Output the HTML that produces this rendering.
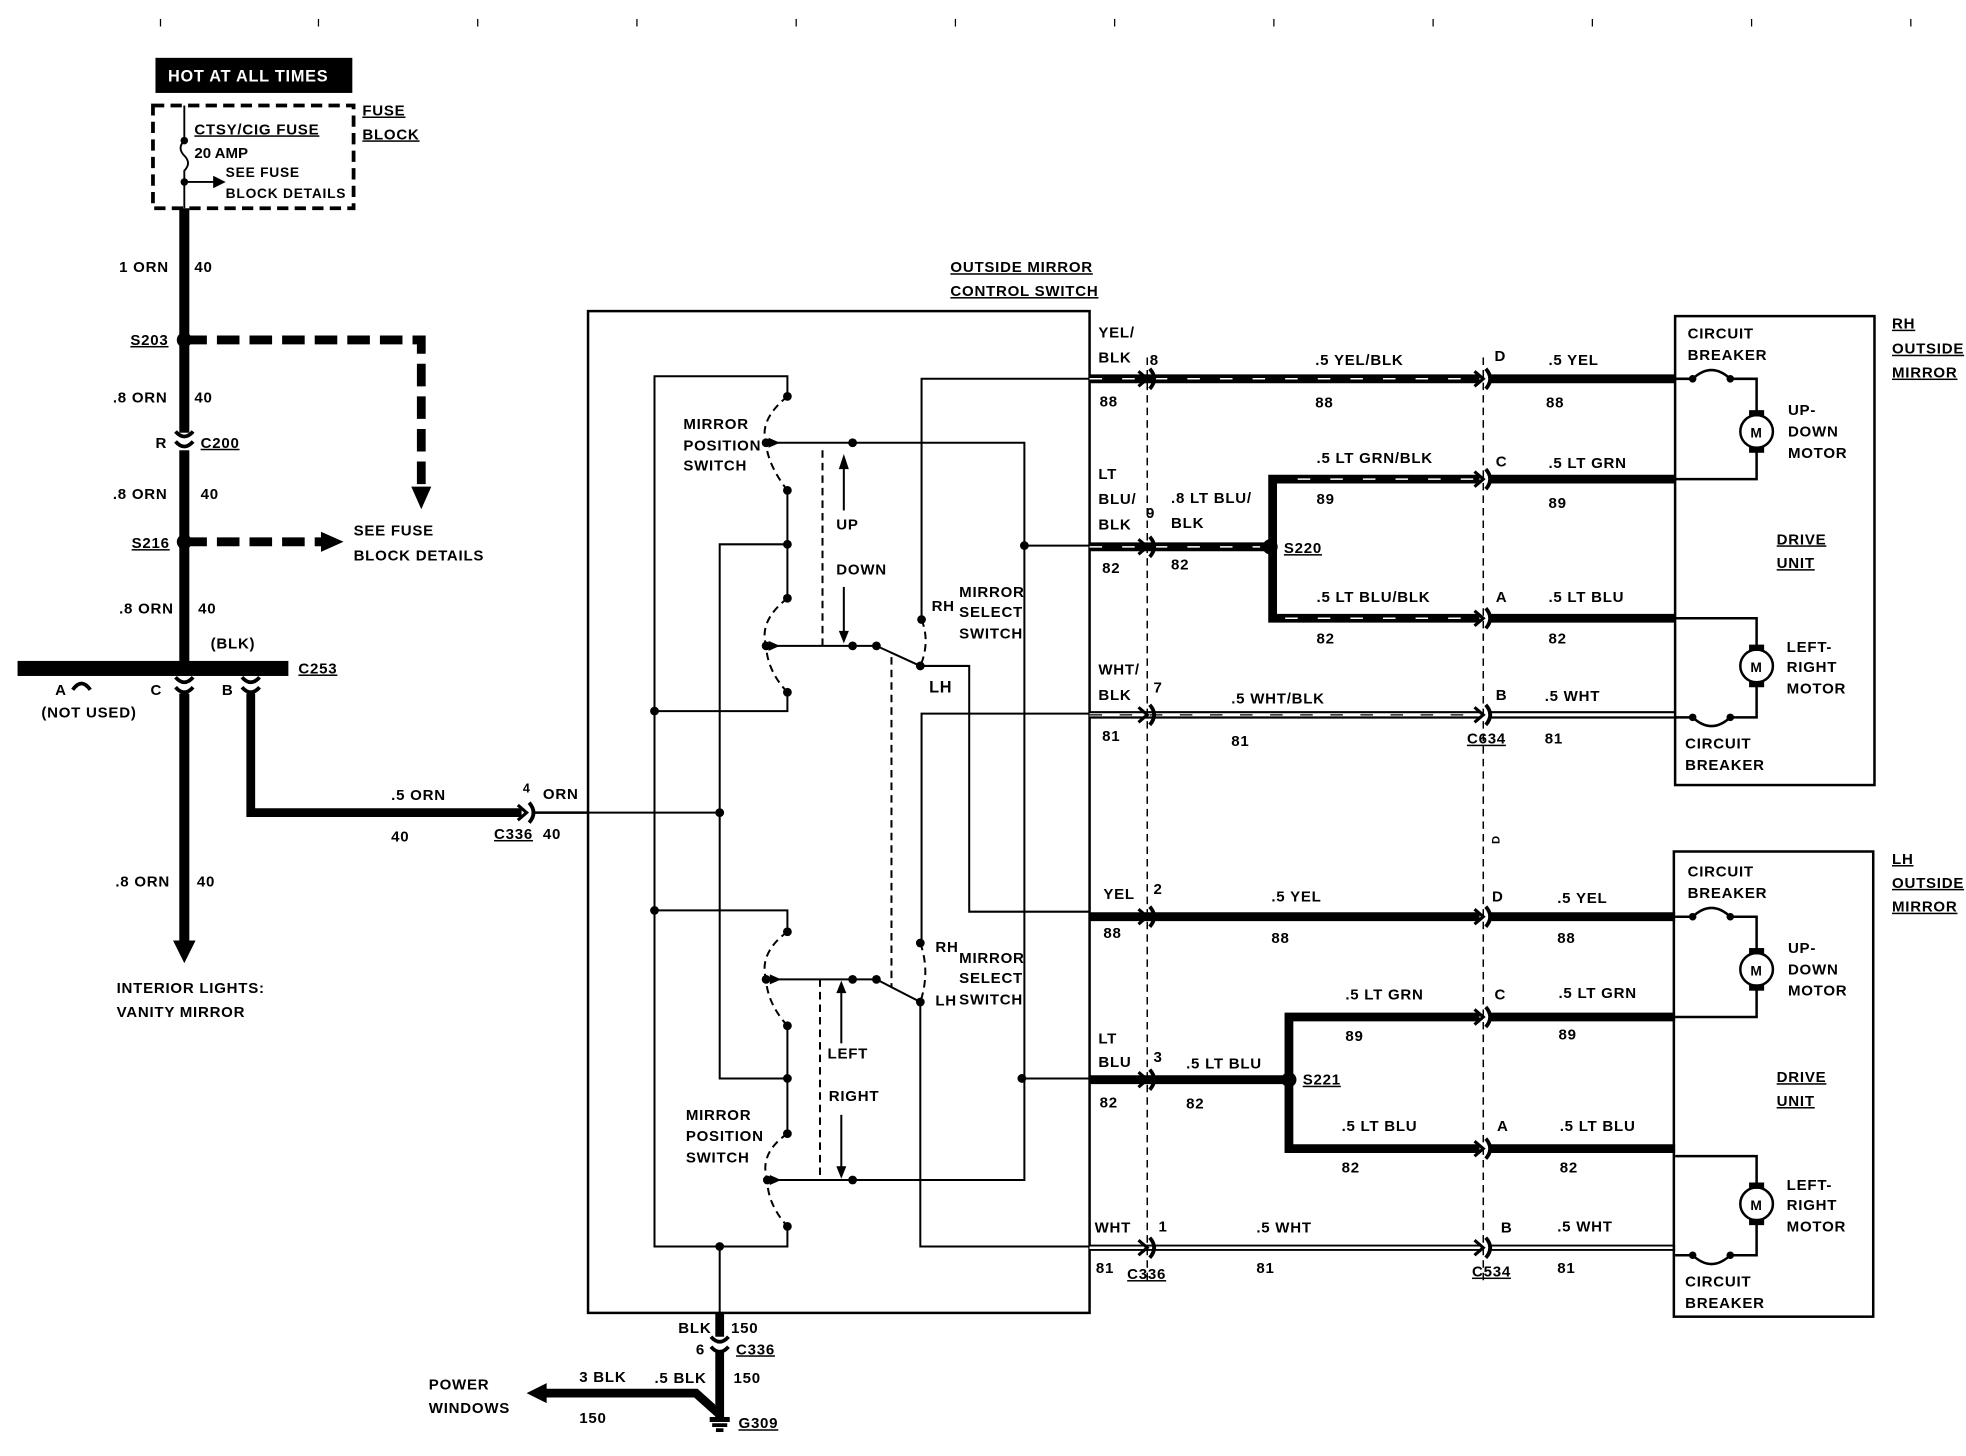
<!DOCTYPE html>
<html><head><meta charset="utf-8"><style>
html,body{margin:0;padding:0;background:#fff;}
svg{display:block;}
text{font-family:"Liberation Sans",sans-serif;font-weight:bold;font-size:12px;fill:#000;letter-spacing:0.6px;}
.u{text-decoration:underline;}
</style></head><body>
<svg width="1966" height="1456" viewBox="0 0 1568 1161" xmlns="http://www.w3.org/2000/svg">
<defs>
<g id="cn"><path d="M-7,-6 L0,0 L-7,6" fill="none" stroke="#000" stroke-width="2.5"/><path d="M2,-8 Q9,0 2,8" fill="none" stroke="#000" stroke-width="3"/></g>
<g id="cnv"><path d="M-7,-6 Q0,2 7,-6" fill="none" stroke="#000" stroke-width="3"/><path d="M-7,2 Q0,10 7,2" fill="none" stroke="#000" stroke-width="3"/></g>
</defs>
<g stroke="#000" stroke-width="1">
<line x1="128" y1="15" x2="128" y2="21"/><line x1="254" y1="15" x2="254" y2="21"/><line x1="381" y1="15" x2="381" y2="21"/><line x1="508" y1="15" x2="508" y2="21"/><line x1="635" y1="15" x2="635" y2="21"/><line x1="762" y1="15" x2="762" y2="21"/><line x1="889" y1="15" x2="889" y2="21"/><line x1="1016" y1="15" x2="1016" y2="21"/><line x1="1143" y1="15" x2="1143" y2="21"/><line x1="1270" y1="15" x2="1270" y2="21"/><line x1="1397" y1="15" x2="1397" y2="21"/><line x1="1524" y1="15" x2="1524" y2="21"/>
</g>
<rect x="124" y="46" width="157" height="28" fill="#000"/>
<text x="134" y="65" style="fill:#fff;font-size:13px">HOT AT ALL TIMES</text>
<rect x="122" y="84" width="160" height="82" fill="none" stroke="#000" stroke-width="3" stroke-dasharray="9,5"/>
<text x="155" y="107" class="u">CTSY/CIG FUSE</text>
<text x="155" y="126" style="letter-spacing:0">20 AMP</text>
<text x="180" y="141" style="font-size:11px">SEE FUSE</text>
<text x="180" y="158" style="font-size:11px">BLOCK DETAILS</text>
<text x="289" y="92" class="u">FUSE</text>
<text x="289" y="111" class="u">BLOCK</text>
<path d="M147,84 V112 Q141,118 147,124 Q153,130 147,136 V166" fill="none" stroke="#000" stroke-width="1.5"/>
<circle cx="147" cy="112" r="3"/><circle cx="147" cy="145" r="3"/>
<line x1="147" y1="145" x2="172" y2="145" stroke="#000" stroke-width="1.5"/><path d="M170,140 L180,145 L170,150Z"/>
<line x1="147" y1="166" x2="147" y2="755" stroke="#000" stroke-width="8"/>
<path d="M138,750 L147,768 L156,750Z"/>
<text x="95" y="217">1 ORN</text><text x="155" y="217">40</text>
<circle cx="147" cy="271" r="6"/><text x="104" y="275" class="u">S203</text>
<path d="M147,271 H336 V390" fill="none" stroke="#000" stroke-width="7" stroke-dasharray="18,8"/>
<path d="M328,388 L336,406 L344,388Z"/>
<text x="90" y="321">.8 ORN</text><text x="155" y="321">40</text>
<rect x="138" y="345" width="18" height="14" fill="#fff"/>
<use href="#cnv" x="147" y="350"/>
<text x="124" y="357">R</text><text x="160" y="357" class="u">C200</text>
<text x="90" y="398">.8 ORN</text><text x="160" y="398">40</text>
<circle cx="147" cy="432" r="6"/><text x="105" y="437" class="u">S216</text>
<line x1="147" y1="432" x2="258" y2="432" stroke="#000" stroke-width="7" stroke-dasharray="18,8"/>
<path d="M256,424 L274,432 L256,440Z"/>
<text x="282" y="427">SEE FUSE</text><text x="282" y="447">BLOCK DETAILS</text>
<text x="95" y="489">.8 ORN</text><text x="158" y="489">40</text>
<rect x="14" y="527" width="216" height="12" fill="#000"/>
<text x="168" y="517">(BLK)</text><text x="238" y="537" class="u">C253</text>
<path d="M58,550 Q65,540 72,550" fill="none" stroke="#000" stroke-width="3"/>
<text x="44" y="554">A</text><text x="120" y="554">C</text><text x="177" y="554">B</text>
<text x="33" y="572">(NOT USED)</text>
<rect x="138" y="539" width="18" height="14" fill="#fff"/><use href="#cnv" x="147" y="546"/>
<use href="#cnv" x="200" y="546"/>
<path d="M200,553 V648 H416" fill="none" stroke="#000" stroke-width="7"/>
<use href="#cn" x="420" y="648"/>
<line x1="425" y1="648" x2="469" y2="648" stroke="#000" stroke-width="2"/>
<text x="312" y="638">.5 ORN</text><text x="312" y="671">40</text>
<text x="417" y="632" style="font-size:10px">4</text><text x="433" y="637">ORN</text>
<text x="394" y="669" class="u">C336</text><text x="433" y="669">40</text>
<text x="92" y="707">.8 ORN</text><text x="157" y="707">40</text>
<text x="93" y="792">INTERIOR LIGHTS:</text><text x="93" y="811">VANITY MIRROR</text>
<rect x="469" y="248" width="400" height="799" fill="none" stroke="#000" stroke-width="2"/>
<text x="758" y="217" class="u">OUTSIDE MIRROR</text><text x="758" y="236" class="u">CONTROL SWITCH</text>
<g fill="none" stroke="#000" stroke-width="1.6">
<path d="M628,316 V300 H522 V994 H628 V978"/>
<path d="M522,567 H628 V552"/>
<path d="M522,726 H628 V743"/>
<path d="M628,391 V477"/><path d="M628,818 V904"/>
<path d="M574,994 V1047"/>
<path d="M628,434 H574 V860 H628"/>
<path d="M574,648 H469"/>
<path d="M611,353 H817 V941 H612"/>
<path d="M817,435 H869"/><path d="M817,860 H869"/>
<path d="M611,515 H699 L734,531 H773 V727 H869"/>
<path d="M735,494 V302 H869"/>
<path d="M869,569 H735 V752"/>
<path d="M612,781 H699 L734,799 V994 H869"/>
</g>
<g fill="none" stroke="#000" stroke-width="1.6" stroke-dasharray="6,4">
<path d="M628,316 Q605,335 611,353 Q612,370 628,391"/>
<path d="M628,477 Q605,495 611,515 Q612,535 628,552"/>
<path d="M628,743 Q605,760 611,781 Q612,800 628,818"/>
<path d="M628,904 Q605,920 612,941 Q612,960 628,978"/>
<path d="M735,494 Q742,512 734,531"/><path d="M734,752 Q742,775 734,799"/>
<line x1="656" y1="359" x2="656" y2="515"/><line x1="711" y1="524" x2="711" y2="787"/><line x1="654" y1="781" x2="654" y2="941"/>
</g>
<g>
<circle cx="628" cy="316" r="3.5"/><circle cx="611" cy="353" r="3.5"/><circle cx="628" cy="391" r="3.5"/><circle cx="628" cy="434" r="3.5"/><circle cx="628" cy="477" r="3.5"/><circle cx="611" cy="515" r="3.5"/><circle cx="628" cy="552" r="3.5"/>
<circle cx="522" cy="567" r="3.5"/><circle cx="574" cy="648" r="3.5"/><circle cx="522" cy="726" r="3.5"/><circle cx="574" cy="994" r="3.5"/>
<circle cx="628" cy="743" r="3.5"/><circle cx="611" cy="781" r="3.5"/><circle cx="628" cy="818" r="3.5"/><circle cx="628" cy="860" r="3.5"/><circle cx="628" cy="904" r="3.5"/><circle cx="612" cy="941" r="3.5"/><circle cx="628" cy="978" r="3.5"/>
<circle cx="680" cy="353" r="3.5"/><circle cx="680" cy="515" r="3.5"/><circle cx="699" cy="515" r="3.5"/><circle cx="735" cy="494" r="3.5"/><circle cx="734" cy="531" r="3.5"/>
<circle cx="680" cy="781" r="3.5"/><circle cx="699" cy="781" r="3.5"/><circle cx="734" cy="752" r="3.5"/><circle cx="734" cy="799" r="3.5"/><circle cx="680" cy="941" r="3.5"/>
<circle cx="817" cy="435" r="3.5"/><circle cx="815" cy="860" r="3.5"/>
<path d="M613,349 L622,353 L613,357Z"/><path d="M613,511 L622,515 L613,519Z"/><path d="M614,777 L623,781 L614,785Z"/><path d="M614,937 L623,941 L614,945Z"/>
</g>
<g stroke="#000" stroke-width="1.6"><line x1="673" y1="372" x2="673" y2="407"/><line x1="673" y1="468" x2="673" y2="505"/><line x1="671" y1="790" x2="671" y2="832"/><line x1="671" y1="889" x2="671" y2="932"/></g>
<path d="M669,374 L673,362 L677,374Z"/><path d="M669,503 L673,513 L677,503Z"/><path d="M667,792 L671,782 L675,792Z"/><path d="M667,930 L671,940 L675,930Z"/>
<g style="font-size:10.5px;letter-spacing:0.3px">
<text x="545" y="342">MIRROR</text><text x="545" y="359">POSITION</text><text x="545" y="375">SWITCH</text>
<text x="667" y="422">UP</text><text x="667" y="458">DOWN</text>
<text x="743" y="487">RH</text><text x="765" y="476">MIRROR</text><text x="765" y="492">SELECT</text><text x="765" y="509">SWITCH</text>
<text x="741" y="552" style="font-size:13px">LH</text>
<text x="746" y="759">RH</text><text x="765" y="768">MIRROR</text><text x="765" y="784">SELECT</text><text x="765" y="801">SWITCH</text><text x="746" y="802">LH</text>
<text x="660" y="844">LEFT</text><text x="661" y="878">RIGHT</text>
<text x="547" y="893">MIRROR</text><text x="547" y="910">POSITION</text><text x="547" y="927">SWITCH</text>
</g>
<line x1="915" y1="285" x2="915" y2="1022" stroke="#000" stroke-width="1.2" stroke-dasharray="6,4"/>
<line x1="1183" y1="285" x2="1183" y2="1022" stroke="#000" stroke-width="1.2" stroke-dasharray="6,4"/>
<g stroke="#000" fill="none">
<path d="M869,302 H1180" stroke-width="7"/><path d="M869,302 H1180" stroke="#fff" stroke-width="1.2" stroke-dasharray="10,16"/>
<path d="M1188,302 H1336" stroke-width="7"/>
<path d="M869,436 H1012" stroke-width="7"/><path d="M869,436 H1005" stroke="#fff" stroke-width="1.2" stroke-dasharray="10,16"/>
<path d="M1180,382 H1015 V493 H1180" stroke-width="7"/><path d="M1175,382 H1025 M1025,493 H1175" stroke="#fff" stroke-width="1.2" stroke-dasharray="10,16"/>
<path d="M1188,382 H1336 M1188,493 H1336" stroke-width="7"/>
<path d="M869,570 H1180" stroke-width="6"/><path d="M869,570 H1180" stroke="#fff" stroke-width="2.5"/><path d="M869,570 H1180" stroke-width="1" stroke-dasharray="10,14"/>
<path d="M1188,570 H1336" stroke-width="6"/><path d="M1188,570 H1336" stroke="#fff" stroke-width="2.5"/>
<path d="M869,731 H1180 M1188,731 H1336" stroke-width="7"/>
<path d="M1180,811 H1028 V916 H1180 M869,861 H1028 M1188,811 H1336 M1188,916 H1336" stroke-width="7"/>
<path d="M869,995 H1180 M1188,995 H1336" stroke-width="5"/><path d="M869,995 H1180 M1188,995 H1336" stroke="#fff" stroke-width="2"/>
</g>
<circle cx="1013" cy="436" r="6"/><circle cx="1028" cy="861" r="6"/>
<use href="#cn" x="915" y="302"/><use href="#cn" x="1183" y="302"/><use href="#cn" x="915" y="436"/><use href="#cn" x="1183" y="382"/><use href="#cn" x="1183" y="493"/><use href="#cn" x="915" y="570"/><use href="#cn" x="1183" y="570"/>
<use href="#cn" x="915" y="731"/><use href="#cn" x="1183" y="731"/><use href="#cn" x="915" y="861"/><use href="#cn" x="1183" y="811"/><use href="#cn" x="1183" y="916"/><use href="#cn" x="915" y="995"/><use href="#cn" x="1183" y="995"/>
<g>
<text x="876" y="269">YEL/</text><text x="876" y="289">BLK</text><text x="877" y="324">88</text><text x="917" y="291">8</text>
<text x="1049" y="291">.5 YEL/BLK</text><text x="1049" y="325">88</text><text x="1192" y="288">D</text><text x="1235" y="291">.5 YEL</text><text x="1233" y="325">88</text>
<text x="876" y="382">LT</text><text x="876" y="402">BLU/</text><text x="876" y="422">BLK</text><text x="879" y="457">82</text><text x="914" y="413">9</text>
<text x="934" y="401">.8 LT BLU/</text><text x="934" y="421">BLK</text><text x="934" y="454">82</text><text x="1024" y="441" class="u">S220</text>
<text x="1050" y="369">.5 LT GRN/BLK</text><text x="1050" y="402">89</text><text x="1193" y="372">C</text><text x="1235" y="373">.5 LT GRN</text><text x="1235" y="405">89</text>
<text x="1050" y="480">.5 LT BLU/BLK</text><text x="1050" y="513">82</text><text x="1193" y="480">A</text><text x="1235" y="480">.5 LT BLU</text><text x="1235" y="513">82</text>
<text x="876" y="538">WHT/</text><text x="876" y="558">BLK</text><text x="879" y="591">81</text><text x="920" y="552">7</text>
<text x="982" y="561">.5 WHT/BLK</text><text x="982" y="595">81</text><text x="1193" y="558">B</text><text x="1170" y="593" class="u">C634</text><text x="1232" y="559">.5 WHT</text><text x="1232" y="593">81</text>
<text x="1196" y="673" transform="rotate(-90 1196 673)" style="font-size:9px">D</text>
<text x="880" y="717">YEL</text><text x="880" y="748">88</text><text x="920" y="713">2</text>
<text x="1014" y="719">.5 YEL</text><text x="1014" y="752">88</text><text x="1190" y="719">D</text><text x="1242" y="720">.5 YEL</text><text x="1242" y="752">88</text>
<text x="1073" y="797">.5 LT GRN</text><text x="1073" y="830">89</text><text x="1192" y="797">C</text><text x="1243" y="796">.5 LT GRN</text><text x="1243" y="829">89</text>
<text x="876" y="832">LT</text><text x="876" y="851">BLU</text><text x="877" y="883">82</text><text x="920" y="847">3</text>
<text x="946" y="852">.5 LT BLU</text><text x="946" y="884">82</text><text x="1039" y="865" class="u">S221</text>
<text x="1070" y="902">.5 LT BLU</text><text x="1070" y="935">82</text><text x="1194" y="902">A</text><text x="1244" y="902">.5 LT BLU</text><text x="1244" y="935">82</text>
<text x="873" y="983">WHT</text><text x="874" y="1015">81</text><text x="924" y="982">1</text><text x="899" y="1020" class="u">C336</text>
<text x="1002" y="983">.5 WHT</text><text x="1002" y="1015">81</text><text x="1197" y="983">B</text><text x="1174" y="1018" class="u">C534</text><text x="1242" y="982">.5 WHT</text><text x="1242" y="1015">81</text>
</g>
<g fill="none" stroke="#000" stroke-width="2">
<rect x="1336" y="252" width="159" height="374"/>
<rect x="1335" y="679" width="159" height="371"/>
</g>
<g id="mir">
<g fill="none" stroke="#000" stroke-width="2">
<path d="M1336,302 H1350 Q1365,288 1380,302 H1401 V330"/>
<path d="M1401,358 V382 H1336"/>
<path d="M1336,493 H1401 V517"/><path d="M1401,545 V572 H1380 Q1365,586 1350,572 H1336"/>
<circle cx="1401" cy="344" r="13"/><circle cx="1401" cy="531" r="13"/>
</g>
<circle cx="1350" cy="302" r="3"/><circle cx="1380" cy="302" r="3"/><circle cx="1350" cy="572" r="3"/><circle cx="1380" cy="572" r="3"/>
<rect x="1395" y="327" width="12" height="5"/><rect x="1395" y="356" width="12" height="5"/><rect x="1395" y="514" width="12" height="5"/><rect x="1395" y="543" width="12" height="5"/>
<text x="1396" y="349" style="font-size:11px;letter-spacing:0">M</text><text x="1396" y="536" style="font-size:11px;letter-spacing:0">M</text>
<g style="font-size:11px"><text x="1346" y="270">CIRCUIT</text><text x="1346" y="287">BREAKER</text>
<text x="1426" y="331">UP-</text><text x="1426" y="348">DOWN</text><text x="1426" y="365">MOTOR</text>
<text x="1425" y="520">LEFT-</text><text x="1425" y="536">RIGHT</text><text x="1425" y="553">MOTOR</text>
<text x="1344" y="597">CIRCUIT</text><text x="1344" y="614">BREAKER</text></g>
<text x="1417" y="434" class="u">DRIVE</text><text x="1417" y="453" class="u">UNIT</text>
</g>
<use href="#mir" x="0" y="429"/>
<text x="1509" y="262" class="u">RH</text><text x="1509" y="282" class="u">OUTSIDE</text><text x="1509" y="301" class="u">MIRROR</text>
<text x="1509" y="689" class="u">LH</text><text x="1509" y="708" class="u">OUTSIDE</text><text x="1509" y="727" class="u">MIRROR</text>
<line x1="574" y1="1047" x2="574" y2="1132" stroke="#000" stroke-width="7"/>
<rect x="565" y="1066" width="18" height="12" fill="#fff"/><use href="#cnv" x="574" y="1072"/>
<path d="M432,1111 H555 L574,1128" fill="none" stroke="#000" stroke-width="7"/>
<path d="M436,1103 L420,1111 L436,1119Z"/>
<rect x="566" y="1130" width="16" height="4"/><rect x="568" y="1135" width="12" height="3"/><rect x="571" y="1139" width="6" height="3"/>
<text x="541" y="1063">BLK</text><text x="583" y="1063">150</text><text x="555" y="1080">6</text><text x="587" y="1080" class="u">C336</text>
<text x="342" y="1108">POWER</text><text x="342" y="1127">WINDOWS</text><text x="462" y="1102">3 BLK</text><text x="522" y="1103">.5 BLK</text><text x="585" y="1103">150</text><text x="462" y="1135">150</text><text x="589" y="1139" class="u">G309</text>
</svg>
</body></html>
